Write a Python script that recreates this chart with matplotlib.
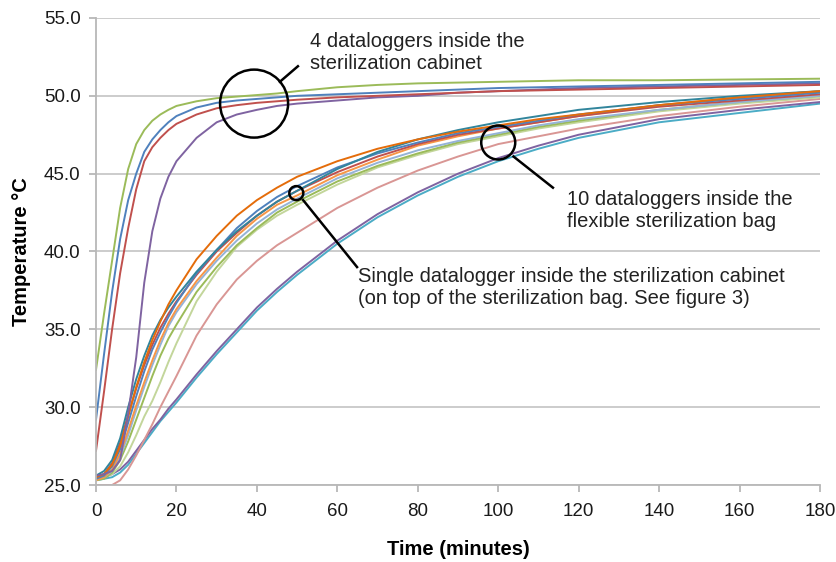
import numpy as np
import matplotlib
matplotlib.use('Agg')
import matplotlib.pyplot as plt
from matplotlib.patches import Ellipse

plt.rcParams['font.family'] = ['Liberation Sans', 'DejaVu Sans']

# time of the readings (minutes)
t = [0, 2, 4, 6, 8, 10, 12, 14, 16, 18, 20, 25, 30, 35, 40, 45, 50, 60, 70, 80, 90, 100, 110, 120, 140, 160, 180]

# 4 dataloggers inside the sterilization cabinet
cab_green = [32.4, 36.0, 39.4, 42.8, 45.3, 46.9, 47.8, 48.4, 48.8, 49.1, 49.35, 49.65, 49.85, 49.95, 50.05, 50.15, 50.3, 50.55, 50.7, 50.8, 50.85, 50.9, 50.95, 51.0, 51.0, 51.05, 51.1]
cab_blue = [29.2, 33.4, 37.4, 40.8, 43.3, 45.0, 46.4, 47.2, 47.8, 48.3, 48.7, 49.25, 49.55, 49.7, 49.8, 49.9, 50.0, 50.1, 50.2, 50.3, 50.4, 50.5, 50.55, 50.6, 50.7, 50.8, 50.9]
cab_red = [27.2, 31.0, 35.0, 38.6, 41.5, 44.0, 45.8, 46.7, 47.3, 47.8, 48.2, 48.8, 49.2, 49.4, 49.55, 49.65, 49.75, 49.9, 50.0, 50.1, 50.2, 50.3, 50.35, 50.4, 50.5, 50.6, 50.7]
cab_purple = [25.6, 25.7, 25.9, 26.6, 29.6, 33.2, 38.0, 41.3, 43.4, 44.8, 45.8, 47.3, 48.3, 48.8, 49.1, 49.35, 49.5, 49.7, 49.9, 50.0, 50.2, 50.3, 50.4, 50.5, 50.6, 50.7, 50.8]

# 10 dataloggers inside the bag + single datalogger on top of the bag
bag_darkorange = [25.5, 25.7, 26.3, 27.5, 29.4, 31.3, 32.9, 34.3, 35.5, 36.6, 37.5, 39.5, 41.0, 42.3, 43.3, 44.1, 44.8, 45.8, 46.6, 47.2, 47.7, 48.1, 48.5, 48.8, 49.4, 49.9, 50.3]
bag_teal = [25.6, 25.9, 26.6, 28.0, 30.0, 31.8, 33.3, 34.6, 35.6, 36.4, 37.1, 38.7, 40.1, 41.3, 42.3, 43.2, 43.9, 45.3, 46.4, 47.2, 47.8, 48.3, 48.7, 49.1, 49.6, 50.0, 50.3]
bag_blue = [25.4, 25.6, 26.2, 27.3, 29.0, 30.7, 32.3, 33.7, 34.8, 35.8, 36.7, 38.6, 40.1, 41.5, 42.6, 43.5, 44.2, 45.4, 46.3, 47.0, 47.6, 48.0, 48.4, 48.8, 49.4, 49.8, 50.2]
bag_red = [25.5, 25.7, 26.4, 27.7, 29.5, 31.2, 32.7, 34.0, 35.1, 36.0, 36.8, 38.5, 40.0, 41.2, 42.3, 43.2, 43.9, 45.1, 46.1, 46.9, 47.5, 47.9, 48.3, 48.7, 49.3, 49.7, 50.1]
bag_orange = [25.3, 25.5, 26.0, 27.0, 28.5, 30.1, 31.6, 33.0, 34.3, 35.4, 36.3, 38.1, 39.6, 41.0, 42.1, 43.0, 43.6, 44.9, 45.9, 46.8, 47.4, 47.9, 48.3, 48.7, 49.4, 49.9, 50.3]
bag_lightblue = [25.4, 25.5, 25.9, 26.8, 28.2, 29.8, 31.3, 32.7, 34.0, 35.2, 36.1, 37.9, 39.4, 40.7, 41.8, 42.7, 43.4, 44.7, 45.7, 46.5, 47.1, 47.6, 48.1, 48.5, 49.1, 49.6, 50.0]
bag_green = [25.3, 25.4, 25.8, 26.6, 27.8, 29.2, 30.6, 32.0, 33.3, 34.4, 35.3, 37.4, 39.0, 40.4, 41.5, 42.5, 43.2, 44.5, 45.5, 46.3, 47.0, 47.5, 48.0, 48.4, 49.1, 49.6, 50.0]
bag_lightgreen = [25.5, 25.5, 25.7, 26.2, 27.1, 28.2, 29.4, 30.4, 31.6, 32.9, 34.1, 36.8, 38.7, 40.3, 41.4, 42.3, 43.0, 44.3, 45.4, 46.2, 46.9, 47.4, 47.9, 48.3, 49.0, 49.5, 49.9]
bag_pink = [25.0, 25.0, 25.0, 25.3, 26.0, 26.9, 27.9, 28.9, 30.0, 31.0, 32.0, 34.6, 36.6, 38.2, 39.4, 40.4, 41.2, 42.8, 44.1, 45.2, 46.1, 46.9, 47.4, 47.9, 48.7, 49.3, 49.8]
bag_purple = [25.4, 25.5, 25.7, 26.0, 26.5, 27.2, 27.9, 28.6, 29.2, 29.9, 30.5, 32.1, 33.6, 35.0, 36.4, 37.6, 38.7, 40.7, 42.4, 43.8, 45.0, 46.0, 46.8, 47.5, 48.5, 49.1, 49.6]
bag_cyan = [25.3, 25.4, 25.5, 25.8, 26.3, 27.0, 27.7, 28.4, 29.1, 29.7, 30.3, 31.9, 33.4, 34.8, 36.2, 37.4, 38.5, 40.5, 42.2, 43.6, 44.8, 45.8, 46.6, 47.3, 48.3, 48.9, 49.5]

bag_series = [
    (bag_cyan, '#4BACC6'), (bag_purple, '#7F63A1'), (bag_pink, '#D99694'),
    (bag_lightgreen, '#C3D69B'), (bag_green, '#9BBB59'), (bag_lightblue, '#95B3D7'),
    (bag_orange, '#F79646'), (bag_red, '#C0504D'), (bag_blue, '#4F81BD'),
    (bag_teal, '#31859C'), (bag_darkorange, '#E46C0A'),
]
cab_series = [
    (cab_purple, '#7F63A1'), (cab_red, '#C0504D'), (cab_blue, '#4F81BD'), (cab_green, '#9BBB59'),
]

fig = plt.figure(figsize=(8.37, 5.62), dpi=100)
ax = fig.add_axes([0.1147, 0.137, 0.865, 0.831])

for vals, col in bag_series:
    ax.plot(t, vals, color=col, lw=1.4)
for vals, col in cab_series:
    ax.plot(t, vals, color=col, lw=1.4)

ax.set_xlim(0, 180)
ax.set_ylim(25, 55)
ax.set_xticks(np.arange(0, 181, 20))
ax.set_yticks(np.arange(25, 55.1, 5))
ax.set_yticklabels(['%.1f' % v for v in np.arange(25, 55.1, 5)])
ax.grid(axis='y', color='#C8C8C8', lw=1.3)
ax.set_axisbelow(True)
for s in ['top', 'right']:
    ax.spines[s].set_visible(False)
for s in ['left', 'bottom']:
    ax.spines[s].set_color('#B8B8B8')
    ax.spines[s].set_linewidth(1.3)
ax.tick_params(axis='both', colors='#B8B8B8', labelcolor='#1a1a1a', labelsize=13.5, length=5, width=1.3)
ax.tick_params(axis='x', pad=8)
ax.tick_params(axis='y', pad=6)

ax.set_xlabel('Time (minutes)', fontsize=14.5, fontweight='bold', labelpad=14)
ax.set_ylabel('Temperature °C', fontsize=14.5, fontweight='bold', labelpad=9)

# annotation circles
def circle(x, y, r_px):
    ax.add_patch(Ellipse((x, y), width=2 * r_px / 4.022, height=2 * r_px / 15.57,
                         fill=False, ec='black', lw=1.8, zorder=5))

circle(39.3, 49.5, 34)
ax.plot([45.7, 50.2], [50.9, 51.9], color='black', lw=1.8)
ax.text(53.2, 54.1, '4 dataloggers inside the\nsterilization cabinet', fontsize=14.5,
        va='top', ha='left', linespacing=1.2, color='#222222')

circle(100.0, 47.0, 17)
ax.plot([103.8, 113.6], [46.1, 44.1], color='black', lw=1.8)
ax.text(117.1, 43.95, '10 dataloggers inside the\nflexible sterilization bag', fontsize=14.5,
        va='top', ha='left', linespacing=1.2, color='#222222')

circle(49.8, 43.75, 7)
ax.plot([51.5, 64.9], [43.3, 39.0], color='black', lw=1.8)
ax.text(65.1, 39.0, 'Single datalogger inside the sterilization cabinet\n(on top of the sterilization bag. See figure 3)',
        fontsize=14.5, va='top', ha='left', linespacing=1.2, color='#222222')

plt.savefig('out.png', dpi=100)
